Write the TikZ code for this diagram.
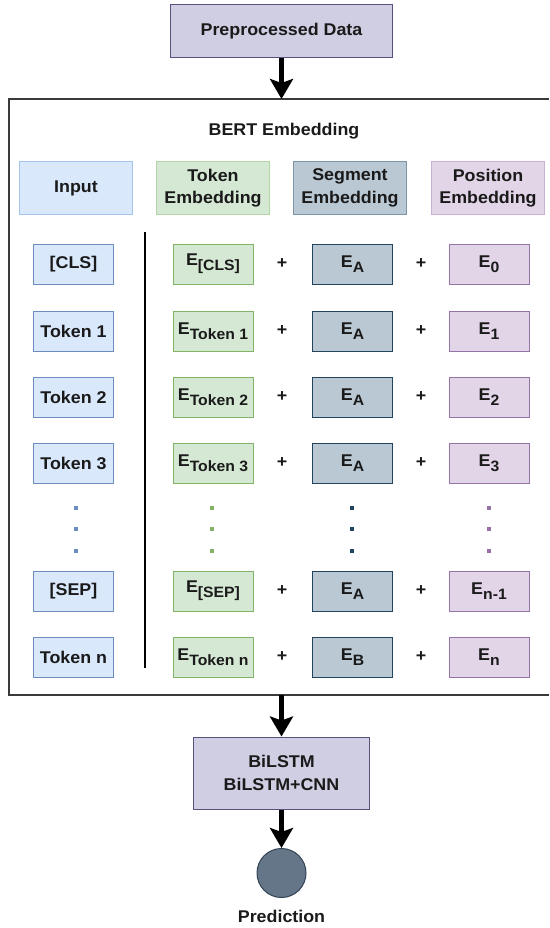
\documentclass[tikz,border=0pt]{standalone}
\usepackage{fontspec}
\setmainfont{Liberation Sans}[FakeStretch=1.05]
\usetikzlibrary{arrows.meta}
\definecolor{txt}{HTML}{1A1A1A}
\definecolor{blueF}{HTML}{DAE8FC}\definecolor{blueD}{HTML}{6C8EBF}\definecolor{blueH}{HTML}{A6C3EA}
\definecolor{greenF}{HTML}{D5E8D4}\definecolor{greenD}{HTML}{82B366}\definecolor{greenH}{HTML}{B2D5A3}
\definecolor{segF}{HTML}{BAC8D3}\definecolor{segD}{HTML}{23445D}\definecolor{segH}{HTML}{7B94A8}
\definecolor{purF}{HTML}{E1D5E7}\definecolor{purD}{HTML}{9673A6}\definecolor{purH}{HTML}{C8B2D4}
\definecolor{lavF}{HTML}{D0CEE2}\definecolor{lavD}{HTML}{56517E}
\definecolor{circF}{HTML}{647687}\definecolor{circD}{HTML}{314354}
\definecolor{frame}{HTML}{3A3A3A}
\newcommand\Esub[1]{E\raisebox{-5pt}{\fontsize{15}{15}\selectfont #1}}
\tikzset{
  every node/.style={font=\fontsize{17}{22.5}\selectfont\bfseries, text=txt, inner sep=0pt, align=center},
  hdr/.style={draw=#1, line width=1.6pt, minimum width=113pt, minimum height=53pt},
  cell/.style={draw=#1, line width=1pt, minimum width=80pt, minimum height=40pt},
  dotmark/.style={fill=#1, rectangle, minimum size=3.5pt, inner sep=0pt},
  bigarrow/.style={line width=5pt, -{Stealth[length=20pt,width=23pt,inset=4pt]}},
}
\begin{document}
\begin{tikzpicture}[x=1pt,y=-1pt]
\useasboundingbox (0,0) rectangle (549,928);
% top box
\node[draw=lavD, fill=lavF, line width=1pt, minimum width=222pt, minimum height=53pt] (pre) at (281.5,31.5) {Preprocessed Data};
% BERT frame
\coordinate (ftr) at (549,99);
\coordinate (ftl) at (9,99);
\coordinate (fbl) at (9,695);
\coordinate (fbr) at (549,695);
\draw[frame, line width=1.5pt] (ftr) -- (ftl) -- (fbl) -- (fbr);
\coordinate (bertTop) at (281.5,99);
\coordinate (bertBot) at (281.5,695);
\node (title) at (284,131) {BERT Embedding};
% headers
\node[hdr=blueH, fill=blueF] (hin) at (76,188) {Input};
\node[hdr=greenH, fill=greenF] (htok) at (213,188) {Token\\Embedding};
\node[hdr=segH, fill=segF] (hseg) at (350,188) {Segment\\Embedding};
\node[hdr=purH, fill=purF] (hpos) at (488,188) {Position\\Embedding};
% separator
\coordinate (sepT) at (145,232);
\coordinate (sepB) at (145,668);
\draw[black, line width=2pt] (sepT) -- (sepB);
% rows
\foreach \y/\nm/\inp/\tok/\seg/\pos in {
  264/r1/{[CLS]}/{[CLS]}/A/0,
  331/r2/{Token 1}/{Token 1}/A/1,
  397/r3/{Token 2}/{Token 2}/A/2,
  463/r4/{Token 3}/{Token 3}/A/3,
  591/r5/{[SEP]}/{[SEP]}/A/{n-1},
  657/r6/{Token n}/{Token n}/B/n}{
  \node[cell=blueD, fill=blueF] (\nm in) at (73.5,\y) {\inp};
  \node[cell=greenD, fill=greenF] (\nm tok) at (213,\y) {\Esub{\tok}};
  \node (\nm p1) at (282,\y) {+};
  \node[cell=segD, fill=segF] (\nm seg) at (352.5,\y) {\Esub{\seg}};
  \node (\nm p2) at (421,\y) {+};
  \node[cell=purD, fill=purF] (\nm pos) at (489,\y) {\Esub{\pos}};
}
% dots
\foreach \y/\k in {508/a,529/b,551/c}{
  \node[dotmark=blueD] (db\k) at (76,\y) {};
  \node[dotmark=greenD] (dg\k) at (212,\y) {};
  \node[dotmark=segD] (ds\k) at (352,\y) {};
  \node[dotmark=purD] (dp\k) at (489,\y) {};
}
% lower part
\node[draw=lavD, fill=lavF, line width=1pt, minimum width=176pt, minimum height=72pt] (bilstm) at (281.5,773) {BiLSTM\\BiLSTM+CNN};
\node[circle, draw=circD, fill=circF, line width=1pt, minimum size=49pt] (pred) at (281.5,873) {};
\node (predlbl) at (281.5,916) {Prediction};
% arrows
\draw[bigarrow] (pre.south) -- (bertTop);
\draw[bigarrow] (bertBot) -- (bilstm.north);
\draw[bigarrow] (bilstm.south) -- (pred.north);
\end{tikzpicture}
\end{document}
